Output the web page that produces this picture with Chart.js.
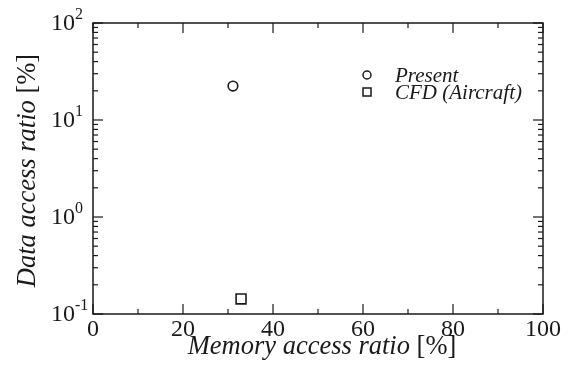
<!DOCTYPE html>
<html>
<head>
<meta charset="utf-8">
<script src="https://cdn.jsdelivr.net/npm/chart.js@4/dist/chart.umd.min.js"></script>
<style>
html,body{margin:0;padding:0;background:#fff;}
#wrap{width:577px;height:378px;position:relative;}
</style>
</head>
<body>
<div id="wrap"><canvas id="c" width="577" height="378"></canvas></div>
<script>
// ---- data ----
const seriesNames = ['Present', 'CFD (Aircraft)'];
const presentX = [31.1];
const presentY = [22.4];
const cfdX = [32.9];
const cfdY = [0.143];
const xTickValues = [0, 20, 40, 60, 80, 100];
const xMinorTicks = [10, 30, 50, 70, 90];
const yTickValues = [0.1, 1, 10, 100];
const yTickExponents = ['-1', '0', '1', '2'];
const xTitleMain = 'Memory access ratio ';
const yTitleMain = 'Data access ratio ';
const unitText = '[%]';

const SERIF = '"Liberation Serif","DejaVu Serif",serif';
const INK = '#1a1a1a';
const TITLE_PX = 26.5;

const decoPlugin = {
  id: 'deco',
  afterDraw(chart) {
    const ctx = chart.ctx, a = chart.chartArea;
    const xs = chart.scales.x, ys = chart.scales.y;
    ctx.save();
    ctx.strokeStyle = INK; ctx.fillStyle = INK;
    ctx.lineWidth = 1.5;
    ctx.strokeRect(a.left, a.top, a.right - a.left, a.bottom - a.top);
    ctx.lineWidth = 1.2;
    const tick = (x1, y1, x2, y2) => { ctx.beginPath(); ctx.moveTo(x1, y1); ctx.lineTo(x2, y2); ctx.stroke(); };
    xTickValues.forEach(v => { const p = xs.getPixelForValue(v); tick(p, a.bottom, p, a.bottom - 10); tick(p, a.top, p, a.top + 10); });
    xMinorTicks.forEach(v => { const p = xs.getPixelForValue(v); tick(p, a.bottom, p, a.bottom - 5); tick(p, a.top, p, a.top + 5); });
    yTickValues.forEach(v => { const p = ys.getPixelForValue(v); tick(a.left, p, a.left + 10, p); tick(a.right, p, a.right - 10, p); });
    for (let d = 0; d < yTickValues.length - 1; d++) {
      for (let m = 2; m <= 9; m++) {
        const p = ys.getPixelForValue(yTickValues[d] * m);
        tick(a.left, p, a.left + 5, p); tick(a.right, p, a.right - 5, p);
      }
    }
    // x tick labels
    ctx.font = '24px ' + SERIF;
    ctx.textAlign = 'center'; ctx.textBaseline = 'middle';
    xTickValues.forEach(v => ctx.fillText(String(v), xs.getPixelForValue(v), a.bottom + 16));
    // y tick labels with superscript
    yTickValues.forEach((v, i) => {
      const p = ys.getPixelForValue(v);
      ctx.textAlign = 'left'; ctx.textBaseline = 'middle';
      ctx.font = '24px ' + SERIF;
      const base = '10';
      const bx = 51;
      ctx.fillText(base, bx, p + 1);
      const w = ctx.measureText(base).width;
      ctx.font = '16px ' + SERIF;
      ctx.fillText(yTickExponents[i], bx + w, p - 8);
    });
    // x title
    ctx.textBaseline = 'alphabetic';
    ctx.font = 'italic ' + TITLE_PX + 'px ' + SERIF;
    const w1 = ctx.measureText(xTitleMain).width;
    ctx.font = TITLE_PX + 'px ' + SERIF;
    const w2 = ctx.measureText(unitText).width;
    let sx = (a.left + a.right) / 2 - (w1 + w2) / 2 + 4;
    ctx.textAlign = 'left';
    ctx.font = 'italic ' + TITLE_PX + 'px ' + SERIF; ctx.fillText(xTitleMain, sx, 354);
    ctx.font = TITLE_PX + 'px ' + SERIF; ctx.fillText(unitText, sx + w1, 354);
    // y title
    ctx.save();
    ctx.translate(35, (a.top + a.bottom) / 2 + 2);
    ctx.rotate(-Math.PI / 2);
    ctx.font = 'italic ' + TITLE_PX + 'px ' + SERIF;
    const v1 = ctx.measureText(yTitleMain).width;
    ctx.font = TITLE_PX + 'px ' + SERIF;
    const v2 = ctx.measureText(unitText).width;
    let sy = -(v1 + v2) / 2;
    ctx.font = 'italic ' + TITLE_PX + 'px ' + SERIF; ctx.fillText(yTitleMain, sy, 0);
    ctx.font = TITLE_PX + 'px ' + SERIF; ctx.fillText(unitText, sy + v1, 0);
    ctx.restore();
    // legend
    const rows = [75, 92];
    chart.data.datasets.forEach((ds, i) => {
      ctx.lineWidth = 1.5; ctx.strokeStyle = INK;
      ctx.beginPath();
      if (ds.pointStyle === 'circle') { ctx.arc(367, rows[i], 4, 0, Math.PI * 2); }
      else { ctx.rect(363, rows[i] - 4, 8, 8); }
      ctx.stroke();
      ctx.font = 'italic 21px ' + SERIF;
      ctx.textAlign = 'left'; ctx.textBaseline = 'middle';
      ctx.fillText(ds.label, 395, rows[i] + 1);
    });
    ctx.restore();
  }
};

new Chart(document.getElementById('c'), {
  type: 'scatter',
  data: {
    datasets: [
      { label: seriesNames[0], data: presentX.map((x, i) => ({ x, y: presentY[i] })), pointStyle: 'circle', pointRadius: 4.8, pointBorderWidth: 1.6, borderColor: INK, backgroundColor: '#fff' },
      { label: seriesNames[1], data: cfdX.map((x, i) => ({ x, y: cfdY[i] })), pointStyle: 'rect', pointRadius: 7, pointBorderWidth: 1.6, borderColor: INK, backgroundColor: '#fff' }
    ]
  },
  options: {
    responsive: false,
    animation: false,
    devicePixelRatio: 1,
    layout: { padding: { left: 93, right: 34, top: 23, bottom: 64 } },
    plugins: { legend: { display: false }, tooltip: { enabled: false } },
    scales: {
      x: { type: 'linear', min: 0, max: 100, display: false },
      y: { type: 'logarithmic', min: 0.1, max: 100, display: false }
    }
  },
  plugins: [decoPlugin]
});
</script>
</body>
</html>
